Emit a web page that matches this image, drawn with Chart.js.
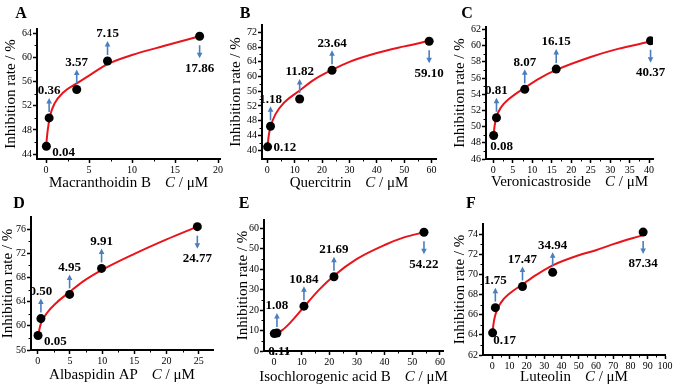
<!DOCTYPE html>
<html>
<head>
<meta charset="utf-8">
<script src="https://cdn.jsdelivr.net/npm/chart.js@4.4.1/dist/chart.umd.min.js"></script>
<style>
  html, body { margin: 0; padding: 0; background: #fff; }
  #wrap { position: relative; width: 676px; height: 389px; overflow: hidden; }
  #wrap canvas { position: absolute; }
  .tag { position: absolute; font: bold 16px "Liberation Serif", serif; color: #000; transform: translate(-50%, -50%); }
</style>
</head>
<body>
<div id="wrap"></div>
<script>
// A - Macranthoidin B
const concA = [0.04, 0.36, 3.57, 7.15, 17.86];
const rateA = [45.3, 50.0, 54.7, 59.4, 63.5];
const fitConcA = [0.04, 0.2, 0.5, 1, 2, 3.57, 5, 7.15, 10, 14, 17.86];
const fitRateA = [45.8, 48.0, 50.5, 52.4, 54.2, 55.7, 57.0, 58.9, 60.4, 62.0, 63.5];
const xTicksA = [0, 5, 10, 15, 20];
const yTicksA = [44, 48, 52, 56, 60, 64];

// B - Quercitrin
const concB = [0.12, 1.18, 11.82, 23.64, 59.10];
const rateB = [40.9, 46.5, 53.9, 61.7, 69.6];
const fitConcB = [0.12, 0.5, 1.18, 3, 6, 11.82, 17, 23.64, 30, 40, 50, 59.10];
const fitRateB = [41.0, 43.8, 46.3, 49.8, 52.8, 56.2, 59.1, 61.8, 64.0, 66.4, 68.2, 69.7];
const xTicksB = [0, 10, 20, 30, 40, 50, 60];
const yTicksB = [40, 44, 48, 52, 56, 60, 64, 68, 72];

// C - Veronicastroside
const concC = [0.08, 0.81, 8.07, 16.15, 40.37];
const rateC = [48.9, 51.1, 54.6, 57.1, 60.6];
const fitConcC = [0.08, 0.3, 0.81, 2, 4, 8.07, 12, 16.15, 25, 32, 40.37];
const fitRateC = [48.9, 50.0, 51.2, 52.4, 53.4, 54.8, 56.0, 57.0, 58.6, 59.6, 60.5];
const xTicksC = [0, 5, 10, 15, 20, 25, 30, 35, 40];
const yTicksC = [46, 48, 50, 52, 54, 56, 58, 60, 62];

// D - Albaspidin AP
const concD = [0.05, 0.50, 4.95, 9.91, 24.77];
const rateD = [58.4, 61.2, 65.2, 69.5, 76.4];
const fitConcD = [0.05, 0.5, 1.5, 3, 4.95, 7, 9.91, 15, 20, 24.77];
const fitRateD = [58.4, 60.4, 62.2, 63.9, 65.6, 67.3, 69.2, 71.9, 74.3, 76.4];
const xTicksD = [0, 5, 10, 15, 20, 25];
const yTicksD = [56, 60, 64, 68, 72, 76];

// E - Isochlorogenic acid B
const concE = [0.11, 1.08, 10.84, 21.69, 54.22];
const rateE = [8.5, 8.8, 21.9, 36.3, 58.0];
const fitConcE = [0.11, 1.08, 3, 6, 10.84, 16, 21.69, 30, 40, 47, 54.22];
const fitRateE = [8.3, 8.8, 10.2, 14.0, 21.5, 29.5, 36.8, 45.0, 51.8, 55.5, 58.0];
const xTicksE = [0, 10, 20, 30, 40, 50, 60];
const yTicksE = [0, 10, 20, 30, 40, 50, 60];

// F - Luteolin
const concF = [0.17, 1.75, 17.47, 34.94, 87.34];
const rateF = [64.2, 66.7, 68.8, 70.2, 74.2];
const fitConcF = [0.17, 0.6, 1.75, 5, 10, 17.47, 25, 34.94, 50, 60, 70, 87.34];
const fitRateF = [64.2, 65.0, 66.0, 67.2, 68.1, 69.0, 69.9, 70.9, 71.9, 72.4, 73.0, 73.9];
const xTicksF = [0, 10, 20, 30, 40, 50, 60, 70, 80, 90, 100];
const yTicksF = [62, 64, 66, 68, 70, 72, 74];

const SERIF = "'Liberation Serif', 'Times New Roman', serif";
const ARROW = '#4a7ebf';
const CURVE = '#e8141b';

const panels = [
  { tag: 'A', name: 'Macranthoidin B', conc: concA, rate: rateA, fitX: fitConcA, fitY: fitRateA, xTicks: xTicksA, yTicks: yTicksA,
    xMin: -1.05, xMax: 20.23, yMin: 43.2, yMax: 64.7,
    box: [0, 0, 225, 195], padTop: 29, padRight: 5, yW: 37, xH: 36, yTitleX: 11, xTitleDy: 24, first: [6, 6, 'left'], tagPos: [21, 13] },
  { tag: 'B', name: 'Quercitrin', conc: concB, rate: rateB, fitX: fitConcB, fitY: fitRateB, xTicks: xTicksB, yTicks: yTicksB,
    xMin: -1.93, xMax: 61.6, yMin: 37.6, yMax: 74,
    box: [225, 0, 225, 195], padTop: 25, padRight: 14, yW: 37, xH: 36, yTitleX: 11, xTitleDy: 24, first: [6, 1, 'left'], tagPos: [20, 13] },
  { tag: 'C', name: 'Veronicastroside', conc: concC, rate: rateC, fitX: fitConcC, fitY: fitRateC, xTicks: xTicksC, yTicks: yTicksC,
    xMin: -1.88, xMax: 41.0, yMin: 46, yMax: 62.3,
    box: [450, 0, 226, 195], padTop: 27, padRight: 23, yW: 36, xH: 36, yTitleX: 10, xTitleDy: 23, first: [8, 11, 'center'], tagPos: [17, 13] },
  { tag: 'D', name: 'Albaspidin AP', conc: concD, rate: rateD, fitX: fitConcD, fitY: fitRateD, xTicks: xTicksD, yTicks: yTicksD,
    xMin: -1.04, xMax: 27.2, yMin: 56, yMax: 78,
    box: [0, 195, 225, 194], padTop: 22, padRight: 12, yW: 31, xH: 39, yTitleX: 8, xTitleDy: 25, first: [6, 6, 'left'], tagPos: [19, 8] },
  { tag: 'E', name: 'Isochlorogenic acid B', conc: concE, rate: rateE, fitX: fitConcE, fitY: fitRateE, xTicks: xTicksE, yTicks: yTicksE,
    xMin: -3.6, xMax: 61.1, yMin: 0, yMax: 64,
    box: [225, 195, 225, 194], padTop: 25, padRight: 7, yW: 39, xH: 38, yTitleX: 18, xTitleDy: 26, first: [5, 18, 'center'], tagPos: [19, 8] },
  { tag: 'F', name: 'Luteolin', conc: concF, rate: rateF, fitX: fitConcF, fitY: fitRateF, xTicks: xTicksF, yTicks: yTicksF,
    xMin: -5.4, xMax: 100, yMin: 62, yMax: 75,
    box: [450, 195, 226, 194], padTop: 29, padRight: 11, yW: 33, xH: 34, yTitleX: 10, xTitleDy: 22, first: [12, 8, 'center'], tagPos: [21, 8] }
];

function drawArrow(ctx, x, y1, y2) {
  const dir = Math.sign(y2 - y1);
  ctx.strokeStyle = ARROW;
  ctx.fillStyle = ARROW;
  ctx.lineWidth = 1.6;
  ctx.beginPath();
  ctx.moveTo(x, y1);
  ctx.lineTo(x, y2 - dir * 4);
  ctx.stroke();
  ctx.beginPath();
  ctx.moveTo(x, y2);
  ctx.lineTo(x - 2.8, y2 - dir * 5.5);
  ctx.lineTo(x + 2.8, y2 - dir * 5.5);
  ctx.closePath();
  ctx.fill();
}

// arrows, concentration labels, minor ticks and the axis titles
const marksPlugin = {
  id: 'marks',
  afterDatasetsDraw(chart, args, opts) {
    const ctx = chart.ctx, xs = chart.scales.x, ys = chart.scales.y;
    const last = opts.conc.length - 1;
    ctx.save();
    opts.conc.forEach((c, i) => {
      const px = xs.getPixelForValue(c);
      const py = ys.getPixelForValue(opts.rate[i]);
      const txt = c.toFixed(2);
      let tx = px, ty;
      if (i === 0) {
        tx = px + opts.first[0];
        ty = py + opts.first[1];
        ctx.textAlign = opts.first[2];
      } else if (i === last) {
        drawArrow(ctx, px, py + 9, py + 22);
        ty = py + 32;
        ctx.textAlign = 'center';
      } else {
        drawArrow(ctx, px, py - 6, py - 20);
        ty = py - 27;
        ctx.textAlign = 'center';
      }
      ctx.fillStyle = '#000';
      ctx.font = 'bold 13px ' + SERIF;
      ctx.textBaseline = 'middle';
      ctx.fillText(txt, tx, ty);
    });
    ctx.restore();
  },
  afterDraw(chart, args, opts) {
    const ctx = chart.ctx, a = chart.chartArea;
    const xs = chart.scales.x, ys = chart.scales.y;
    ctx.save();

    // minor ticks halfway between the major ones
    ctx.strokeStyle = '#000';
    ctx.lineWidth = 1;
    ctx.beginPath();
    for (let i = 0; i < xs.ticks.length - 1; i++) {
      const px = Math.round(xs.getPixelForValue((xs.ticks[i].value + xs.ticks[i + 1].value) / 2)) + 0.5;
      ctx.moveTo(px, a.bottom);
      ctx.lineTo(px, a.bottom + 2.5);
    }
    for (let i = 0; i < ys.ticks.length - 1; i++) {
      const py = Math.round(ys.getPixelForValue((ys.ticks[i].value + ys.ticks[i + 1].value) / 2)) + 0.5;
      ctx.moveTo(a.left, py);
      ctx.lineTo(a.left - 2.5, py);
    }
    ctx.stroke();

    ctx.fillStyle = '#000';
    ctx.textBaseline = 'middle';
    // y title
    ctx.font = '15px ' + SERIF;
    ctx.translate(opts.yTitleX, (a.top + a.bottom) / 2);
    ctx.rotate(-Math.PI / 2);
    ctx.textAlign = 'center';
    ctx.fillText('Inhibition rate / %', 0, 0);
    ctx.setTransform(1, 0, 0, 1, 0, 0);
    // x title: name, gap, italic C, unit
    const regular = '15px ' + SERIF, italic = 'italic 15px ' + SERIF;
    ctx.font = regular;
    const w1 = ctx.measureText(opts.name).width;
    const w3 = ctx.measureText(' / \u03bcM').width;
    ctx.font = italic;
    const w2 = ctx.measureText('C').width;
    const gap = 14;
    let x = (a.left + a.right) / 2 - (w1 + gap + w2 + w3) / 2;
    const y = a.bottom + opts.xTitleDy;
    ctx.textAlign = 'left';
    ctx.font = regular;
    ctx.fillText(opts.name, x, y);
    x += w1 + gap;
    ctx.font = italic;
    ctx.fillText('C', x, y);
    x += w2;
    ctx.font = regular;
    ctx.fillText(' / \u03bcM', x, y);
    ctx.restore();
  }
};

function axis(min, max, ticks, fit) {
  return {
    type: 'linear',
    min: min,
    max: max,
    afterBuildTicks: s => { s.ticks = ticks.map(v => ({ value: v })); },
    afterFit: fit,
    grid: { display: true, drawOnChartArea: false, drawTicks: true, tickLength: 4, tickWidth: 1.5, tickColor: '#000' },
    border: { display: true, color: '#000', width: 2 },
    ticks: { autoSkip: false, maxRotation: 0, padding: 1, color: '#000', font: { family: SERIF, size: 10 } },
    title: { display: false }
  };
}

const wrap = document.getElementById('wrap');
panels.forEach(p => {
  const cv = document.createElement('canvas');
  cv.width = p.box[2];
  cv.height = p.box[3];
  cv.style.left = p.box[0] + 'px';
  cv.style.top = p.box[1] + 'px';
  wrap.appendChild(cv);

  const tag = document.createElement('div');
  tag.className = 'tag';
  tag.textContent = p.tag;
  tag.style.left = (p.box[0] + p.tagPos[0]) + 'px';
  tag.style.top = (p.box[1] + p.tagPos[1]) + 'px';
  wrap.appendChild(tag);

  new Chart(cv, {
    type: 'scatter',
    data: {
      datasets: [
        {
          type: 'line',
          data: p.fitX.map((x, i) => ({ x: x, y: p.fitY[i] })),
          borderColor: CURVE,
          borderWidth: 2,
          pointRadius: 0,
          cubicInterpolationMode: 'monotone',
          fill: false,
          order: 1
        },
        {
          data: p.conc.map((x, i) => ({ x: x, y: p.rate[i] })),
          backgroundColor: '#000',
          borderColor: '#000',
          borderWidth: 0,
          pointRadius: 4.5,
          order: 0
        }
      ]
    },
    options: {
      responsive: false,
      animation: false,
      events: [],
      layout: { padding: { top: p.padTop, right: p.padRight, left: 0, bottom: 0 } },
      plugins: {
        legend: { display: false },
        tooltip: { enabled: false },
        marks: { conc: p.conc, rate: p.rate, name: p.name, first: p.first, yTitleX: p.yTitleX, xTitleDy: p.xTitleDy }
      },
      scales: {
        x: axis(p.xMin, p.xMax, p.xTicks, s => { s.height = p.xH; }),
        y: axis(p.yMin, p.yMax, p.yTicks, s => { s.width = p.yW; })
      }
    },
    plugins: [marksPlugin]
  });
});
</script>
</body>
</html>
